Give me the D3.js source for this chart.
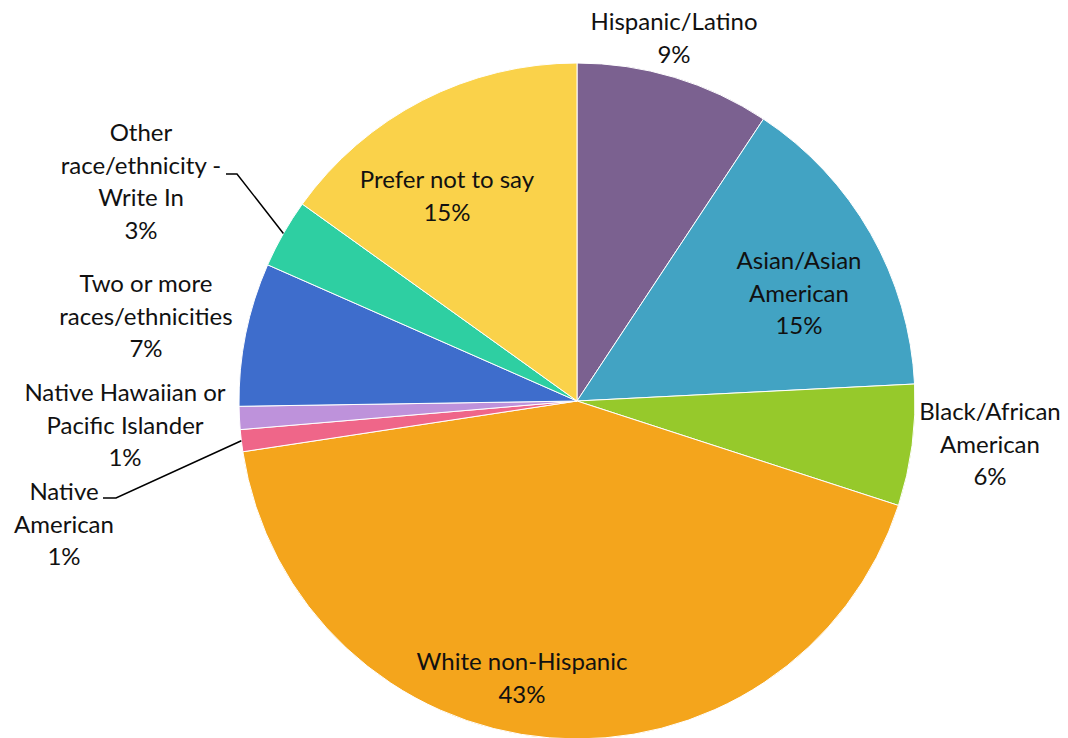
<!DOCTYPE html>
<html>
<head>
<meta charset="utf-8">
<script src="https://cdn.jsdelivr.net/npm/d3@7"></script>
<style>
html,body{margin:0;padding:0;background:#fff;}
svg{display:block;}
text{font-family:Lato,"Open Sans",sans-serif;fill:#111;}
</style>
</head>
<body>
<svg id="chart" width="1068" height="738"></svg>
<script>
const categories = ["Hispanic/Latino","Asian/Asian American","Black/African American","White non-Hispanic","Native American","Native Hawaiian or Pacific Islander","Two or more races/ethnicities","Other race/ethnicity - Write In","Prefer not to say"];
const values = [9.3, 14.9, 5.8, 42.6, 1.05, 1.1, 6.85, 3.3, 15.1];
const pctLabels = ["9%","15%","6%","43%","1%","1%","7%","3%","15%"];
const labelLines = [
  ["Hispanic/Latino"],
  ["Asian/Asian","American"],
  ["Black/African","American"],
  ["White non-Hispanic"],
  ["Native","American"],
  ["Native Hawaiian or","Pacific Islander"],
  ["Two or more","races/ethnicities"],
  ["Other","race/ethnicity -","Write In"],
  ["Prefer not to say"]
];
const colors = ["#7B6190","#42A3C3","#96C92B","#F4A51C","#EF6689","#BE92DB","#3E6DCC","#2ECFA2","#FAD24A"];
// label centers (x, y of first line)
const labelPos = [[674,22],[799,261],[990,412],[522,662],[64,492],[125,393],[146,284],[141,133],[447,180]];

const cx = 577, cy = 401, R = 338;
const svg = d3.select("#chart");
const g = svg.append("g").attr("transform", `translate(${cx},${cy})`);
const data = categories.map((c,i)=>({c, v:values[i], i}));
const pie = d3.pie().value(d=>d.v).sort(null);
const arc = d3.arc().innerRadius(0).outerRadius(R);
const color = d3.scaleOrdinal().domain(categories).range(colors);

g.selectAll("path").data(pie(data)).join("path")
  .attr("d", arc)
  .attr("fill", d=>color(d.data.c))
  .attr("stroke", "#fff").attr("stroke-width", 1);

// leader lines
const arcs = pie(data);
function edgePoint(a, frac){
  const ang = a.startAngle + (a.endAngle - a.startAngle)*frac;
  return [cx + R*Math.sin(ang), cy - R*Math.cos(ang)];
}
const leaders = [
  {i:7, pts:[[226,174],[237,174]]},
  {i:4, pts:[[103,498],[116,498]]}
];
leaders.forEach(l=>{
  const e = edgePoint(arcs[l.i], 0.5);
  const pts = l.pts.concat([e]);
  svg.append("path").attr("d", d3.line()(pts))
    .attr("fill","none").attr("stroke","#000").attr("stroke-width",1.5);
});

const lh = 32.5;
data.forEach((d,i)=>{
  const lines = labelLines[i].concat([pctLabels[i]]);
  const t = svg.append("text").attr("text-anchor","middle")
    .attr("font-size", 24);
  lines.forEach((ln,k)=>{
    t.append("tspan").attr("x", labelPos[i][0]).attr("y", labelPos[i][1] + k*lh)
      .attr("dy","0.35em").text(ln);
  });
});
</script>
</body>
</html>
